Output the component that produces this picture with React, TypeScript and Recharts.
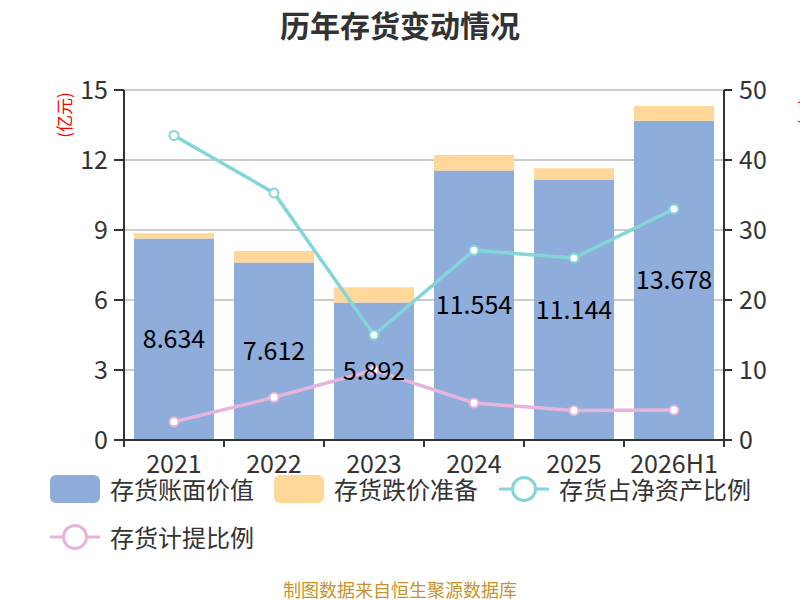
import React from 'react';
import { ComposedChart, Bar, Line, XAxis, YAxis, CartesianGrid, LabelList } from 'recharts';

const years = ['2021', '2022', '2023', '2024', '2025', '2026H1'];
const bookValue = [8.634, 7.612, 5.892, 11.554, 11.144, 13.678];
const reserve = [0.23, 0.49, 0.65, 0.66, 0.5, 0.64];
const netAssetRatio = [43.5, 35.3, 15.0, 27.1, 26.0, 33.0];
const provisionRatio = [2.6, 6.1, 10.0, 5.3, 4.2, 4.3];
const leftTicks = [0, 3, 6, 9, 12, 15];
const rightTicks = [0, 10, 20, 30, 40, 50];

const BLUE = '#8EADDB';
const ORANGE = '#FFD899';
const TEAL = '#84D5D7';
const PINK = '#E7B5DB';
const TEXT = '#333333';
const FONT = '"Noto Sans CJK SC", "Noto Sans", sans-serif';

const data = years.map((y, i) => ({
  year: y,
  book: bookValue[i],
  reserve: reserve[i],
  net: netAssetRatio[i],
  prov: provisionRatio[i],
}));

const X_TICK_SIZE = 7;
const X_TICK_MARGIN = 2;

const XTick = (props: any) => {
  const { x, y, payload, index, visibleTicksCount } = props;
  const half = payload.offset || 0;
  const top = y - X_TICK_SIZE - X_TICK_MARGIN;
  return (
    <g>
      <line x1={x - half} x2={x - half} y1={top} y2={top + X_TICK_SIZE} stroke={TEXT} strokeWidth={2} />
      {index === visibleTicksCount - 1 && (
        <line x1={x + half} x2={x + half} y1={top} y2={top + X_TICK_SIZE} stroke={TEXT} strokeWidth={2} />
      )}
      <text x={x} y={y} dy={24} textAnchor="middle" fontSize={25} fill={TEXT} fontFamily={FONT}>
        {payload.value}
      </text>
    </g>
  );
};

const LegendLineIcon = ({ color }: { color: string }) => (
  <svg width={50} height={28} style={{ display: 'block' }}>
    <line x1={0} x2={50} y1={14} y2={14} stroke={color} strokeWidth={3} />
    <circle cx={25} cy={14} r={11.5} fill="#fff" stroke={color} strokeWidth={3} />
  </svg>
);

const LegendBox = ({ color }: { color: string }) => (
  <div style={{ width: 50, height: 28, borderRadius: 6, background: color }} />
);

const legendItems = [
  { label: '存货账面价值', icon: <LegendBox color={BLUE} />, left: 50, top: 475 },
  { label: '存货跌价准备', icon: <LegendBox color={ORANGE} />, left: 274, top: 475 },
  { label: '存货占净资产比例', icon: <LegendLineIcon color={TEAL} />, left: 499, top: 475 },
  { label: '存货计提比例', icon: <LegendLineIcon color={PINK} />, left: 50, top: 523 },
];

export default function App() {
  return (
    <div style={{ position: 'absolute', left: 0, top: 0, width: 800, height: 600, background: '#fff', fontFamily: FONT, overflow: 'hidden' }}>
      <div style={{ position: 'absolute', left: 0, top: 4, width: 800, textAlign: 'center', fontSize: 30, fontWeight: 'bold', color: TEXT, lineHeight: '40px' }}>
        历年存货变动情况
      </div>
      <ComposedChart
        width={800}
        height={600}
        data={data}
        margin={{ top: 90, right: 0, bottom: 130, left: 0 }}
        barCategoryGap="10%"
        style={{ position: 'absolute', left: 0, top: 0 }}
      >
        <CartesianGrid vertical={false} stroke="#cccccc" strokeWidth={2} yAxisId="left" />
        <XAxis
          dataKey="year"
          height={30}
          axisLine={{ stroke: TEXT, strokeWidth: 2 }}
          tickLine={false}
          tickSize={X_TICK_SIZE}
          tickMargin={X_TICK_MARGIN}
          tick={<XTick />}
          interval={0}
        />
        <YAxis
          yAxisId="left"
          width={124}
          domain={[0, 15]}
          ticks={leftTicks}
          axisLine={{ stroke: TEXT, strokeWidth: 2 }}
          tickLine={{ stroke: TEXT, strokeWidth: 2 }}
          tickSize={10}
          tickMargin={6}
          tick={{ fontSize: 25, fill: TEXT, fontFamily: FONT }}
          interval={0}
        />
        <YAxis
          yAxisId="right"
          orientation="right"
          width={76}
          domain={[0, 50]}
          ticks={rightTicks}
          axisLine={{ stroke: TEXT, strokeWidth: 2 }}
          tickLine={{ stroke: TEXT, strokeWidth: 2 }}
          tickSize={8}
          tickMargin={7}
          tick={{ fontSize: 25, fill: TEXT, fontFamily: FONT }}
          interval={0}
        />
        <Bar dataKey="book" stackId="a" yAxisId="left" fill={BLUE} isAnimationActive={false}>
          <LabelList dataKey="book" position="center" fill="#000" fontSize={25} fontFamily={FONT} />
        </Bar>
        <Bar dataKey="reserve" stackId="a" yAxisId="left" fill={ORANGE} isAnimationActive={false} />
        <Line
          dataKey="net"
          yAxisId="right"
          stroke={TEAL}
          strokeWidth={3.5}
          dot={{ r: 4.5, fill: '#fff', stroke: TEAL, strokeWidth: 2 }}
          isAnimationActive={false}
        />
        <Line
          dataKey="prov"
          yAxisId="right"
          stroke={PINK}
          strokeWidth={3.5}
          dot={{ r: 4.5, fill: '#fff', stroke: PINK, strokeWidth: 2 }}
          isAnimationActive={false}
        />
        <text x={63} y={115} transform="rotate(-90 63 115)" textAnchor="middle" dominantBaseline="central" fontSize={17} fill="#ff0000" fontFamily={FONT}>
          (亿元)
        </text>
        <text x={808} y={112} transform="rotate(90 808 112)" textAnchor="middle" dominantBaseline="central" fontSize={17} fill="#ff0000" fontFamily={FONT}>
          (%)
        </text>
      </ComposedChart>
      {legendItems.map((it) => (
        <div key={it.label} style={{ position: 'absolute', left: it.left, top: it.top, height: 28, display: 'flex', alignItems: 'center' }}>
          {it.icon}
          <span style={{ marginLeft: 10, fontSize: 24, color: TEXT, whiteSpace: 'nowrap', lineHeight: '28px' }}>{it.label}</span>
        </div>
      ))}
      <div style={{ position: 'absolute', left: 0, top: 576, width: 800, textAlign: 'center', fontSize: 18, color: '#C8932C', lineHeight: '26px' }}>
        制图数据来自恒生聚源数据库
      </div>
    </div>
  );
}
